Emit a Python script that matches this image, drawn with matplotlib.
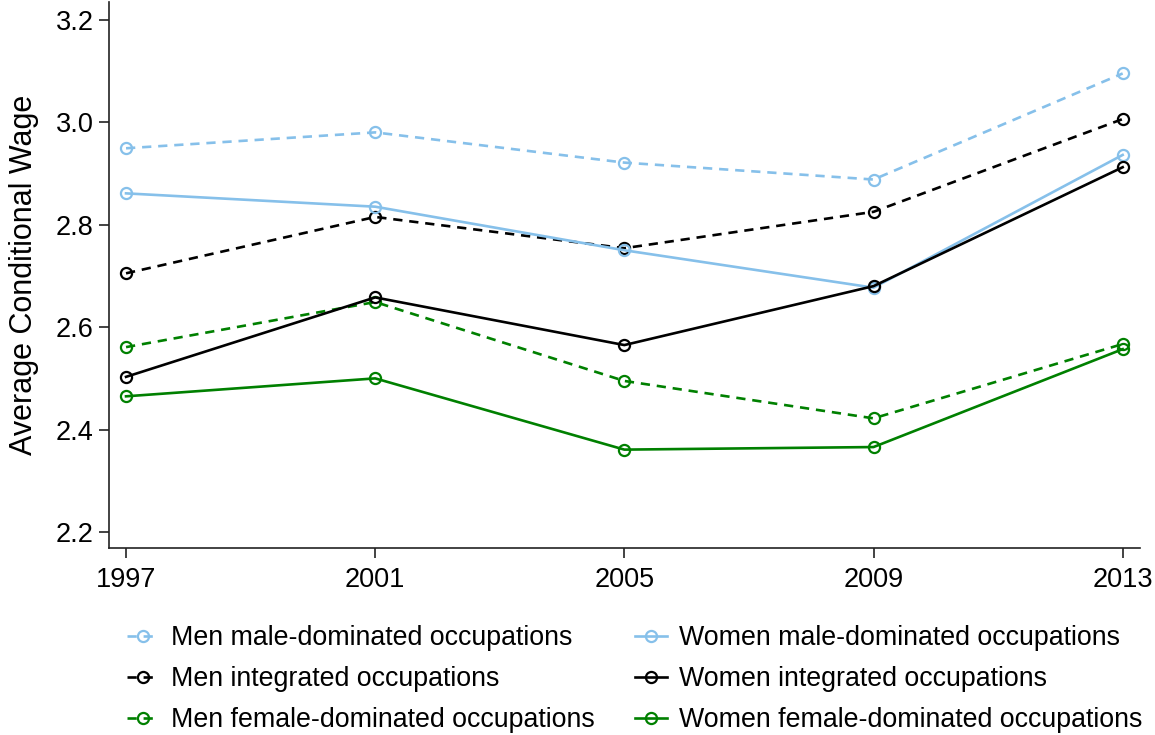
import matplotlib
matplotlib.use("Agg")
import matplotlib.pyplot as plt
from matplotlib.ticker import FixedLocator

plt.rcParams['font.family'] = ['Liberation Sans', 'DejaVu Sans']

# survey years and average conditional wage
years = [1997, 2001, 2005, 2009, 2013]

men_male = [2.949, 2.980, 2.921, 2.888, 3.095]
women_male = [2.861, 2.835, 2.750, 2.677, 2.936]
men_integrated = [2.705, 2.815, 2.754, 2.825, 3.006]
women_integrated = [2.503, 2.658, 2.565, 2.680, 2.912]
men_female = [2.561, 2.649, 2.495, 2.422, 2.567]
women_female = [2.465, 2.500, 2.361, 2.366, 2.557]

labels = ["Men male-dominated occupations",
          "Men integrated occupations",
          "Men female-dominated occupations",
          "Women male-dominated occupations",
          "Women integrated occupations",
          "Women female-dominated occupations"]

yticks = [2.2, 2.4, 2.6, 2.8, 3.0, 3.2]

lblue = '#86C0EA'
green = '#008000'
black = '#000000'

fig = plt.figure(figsize=(11.55, 7.35), dpi=100)
ax = fig.add_axes([0.0944, 0.2544, 0.8926, 0.7426])

series = [
    (men_male, lblue, '--'),
    (men_integrated, black, '--'),
    (men_female, green, '--'),
    (women_male, lblue, '-'),
    (women_integrated, black, '-'),
    (women_female, green, '-'),
]

handles = []
for vals, col, ls, in series:
    h, = ax.plot(years, vals, color=col, ls=ls, lw=1.9, marker='o', ms=8,
                 mfc='none', mec=col, mew=1.6)
    if ls == '--':
        h.set_dashes((3.5, 2.6))
    handles.append(h)

ax.set_xlim(1996.727, 2013.278)
ax.set_ylim(2.169, 3.234)
ax.set_xticks(years)
ax.yaxis.set_major_locator(FixedLocator(yticks))
ax.set_yticklabels(["%.1f" % t for t in yticks])

for s in ['top', 'right']:
    ax.spines[s].set_visible(False)
for s in ['left', 'bottom']:
    ax.spines[s].set_linewidth(1.2)
    ax.spines[s].set_color('#222222')

ax.tick_params(axis='both', direction='out', length=7, width=1.2,
               color='#222222', labelsize=19.5)
ax.tick_params(axis='x', pad=7)
ax.tick_params(axis='y', pad=4)
ax.set_ylabel("Average Conditional Wage", fontsize=22, labelpad=12)

fig.legend(handles, labels, ncol=2, loc='upper left',
           bbox_to_anchor=(0.110, 0.149), frameon=False, fontsize=19.3,
           handlelength=1.2, handletextpad=0.45, columnspacing=1.5,
           labelspacing=0.55, borderaxespad=0, borderpad=0)

fig.savefig("out.png", dpi=100)
